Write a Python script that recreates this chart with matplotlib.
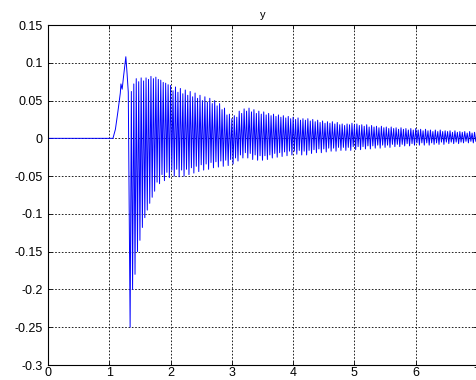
import matplotlib
matplotlib.use("Agg")
import matplotlib.pyplot as plt
import numpy as np

## Data
# quiet start, step-like rise and the first plunge
pre_t = [0.0, 1.06, 1.1, 1.14, 1.18, 1.19, 1.21, 1.23, 1.27, 1.29, 1.31]
pre_y = [0.0, 0.0, 0.012, 0.035, 0.06, 0.072, 0.065, 0.08, 0.108, 0.086, 0.061]

# oscillation: alternating trough / peak samples
osc_start = 1.34
osc_step = 0.02
osc_low = [-0.25, -0.20, -0.18, -0.15, -0.135, -0.118, -0.105, -0.095, -0.086, -0.078,
           -0.070, -0.058, -0.060, -0.048, -0.056, -0.045, -0.052, -0.042, -0.050, -0.041,
           -0.051, -0.042, -0.050, -0.041, -0.048, -0.039, -0.046, -0.037, -0.044, -0.035,
           -0.042, -0.034, -0.041, -0.032, -0.039, -0.031, -0.038, -0.030, -0.037, -0.029,
           -0.036, -0.028, -0.034, -0.026, -0.030, -0.022, -0.026, -0.019, -0.026, -0.020,
           -0.028, -0.022, -0.029, -0.023, -0.029, -0.023, -0.028, -0.022, -0.026, -0.020,
           -0.025, -0.019, -0.024, -0.018, -0.023, -0.017, -0.022, -0.017, -0.021, -0.016,
           -0.022, -0.017, -0.022, -0.016, -0.020, -0.015, -0.019, -0.014, -0.019, -0.014,
           -0.018, -0.013, -0.017, -0.013, -0.017, -0.012, -0.016, -0.012, -0.016, -0.012,
           -0.016, -0.011, -0.015, -0.011, -0.015, -0.011, -0.014, -0.010, -0.014, -0.010,
           -0.013, -0.009, -0.013, -0.009, -0.012, -0.009, -0.012, -0.008, -0.011, -0.008,
           -0.011, -0.008, -0.010, -0.007, -0.010, -0.007, -0.009, -0.006, -0.009, -0.006,
           -0.009, -0.006, -0.009, -0.006, -0.008, -0.006, -0.008, -0.005, -0.008, -0.005,
           -0.007, -0.005, -0.007, -0.005, -0.007, -0.005, -0.006, -0.004, -0.006, -0.004,
           -0.006, -0.004]
osc_high = [0.062, 0.072, 0.079, 0.075, 0.080, 0.076, 0.080, 0.078, 0.082, 0.079,
            0.081, 0.078, 0.077, 0.074, 0.073, 0.071, 0.070, 0.063, 0.068, 0.061,
            0.066, 0.059, 0.064, 0.057, 0.062, 0.055, 0.060, 0.053, 0.057, 0.050,
            0.055, 0.048, 0.053, 0.046, 0.050, 0.043, 0.046, 0.038, 0.040, 0.031,
            0.032, 0.026, 0.030, 0.028, 0.036, 0.033, 0.039, 0.036, 0.040, 0.035,
            0.038, 0.033, 0.036, 0.032, 0.035, 0.031, 0.033, 0.030, 0.032, 0.029,
            0.031, 0.028, 0.030, 0.027, 0.029, 0.026, 0.028, 0.025, 0.027, 0.024,
            0.026, 0.024, 0.026, 0.023, 0.025, 0.022, 0.024, 0.021, 0.023, 0.020,
            0.022, 0.020, 0.022, 0.019, 0.021, 0.018, 0.019, 0.017, 0.019, 0.018,
            0.020, 0.018, 0.019, 0.017, 0.018, 0.016, 0.018, 0.015, 0.017, 0.015,
            0.016, 0.014, 0.016, 0.014, 0.015, 0.013, 0.015, 0.013, 0.014, 0.012,
            0.014, 0.012, 0.013, 0.011, 0.013, 0.011, 0.013, 0.011, 0.012, 0.010,
            0.012, 0.010, 0.011, 0.009, 0.011, 0.009, 0.011, 0.009, 0.010, 0.009,
            0.010, 0.008, 0.010, 0.008, 0.009, 0.008, 0.009, 0.007, 0.009, 0.007,
            0.008, 0.007]

x_ticks = [0, 1, 2, 3, 4, 5, 6, 7]
y_ticks = [0.15, 0.1, 0.05, 0, -0.05, -0.1, -0.15, -0.2, -0.25, -0.3]

## build the sample sequence
osc_y = np.ravel(np.column_stack([osc_low, osc_high]))
osc_t = osc_start + osc_step * np.arange(len(osc_y))
t = np.concatenate([pre_t, osc_t])
y = np.concatenate([pre_y, osc_y])

plt.rcParams['font.family'] = ['Liberation Sans', 'DejaVu Sans']

fig = plt.figure(figsize=(4.76, 3.8), dpi=100)
ax = fig.add_axes([48 / 476, 15 / 380, 429 / 476, 340 / 380])

ax.plot(t, y, color=(0, 0, 1), linewidth=0.7)

ax.set_xlim(0, 7)
ax.set_ylim(-0.3, 0.15)
ax.set_xticks(x_ticks)
ax.set_yticks(y_ticks)
ax.set_xticklabels([str(v) for v in x_ticks])
ax.set_yticklabels(['%g' % v for v in y_ticks])
ax.tick_params(direction='in', length=3, width=0.6, labelsize=9, pad=4,
               top=True, right=True, colors='black')
ax.tick_params(axis='x', pad=1.5)
ax.grid(True, color='black', linestyle=(0, (2, 2)), linewidth=0.6)
for s in ax.spines.values():
    s.set_linewidth(0.8)
ax.set_title('y', fontsize=8, pad=5)

fig.savefig('out.png', dpi=100)
